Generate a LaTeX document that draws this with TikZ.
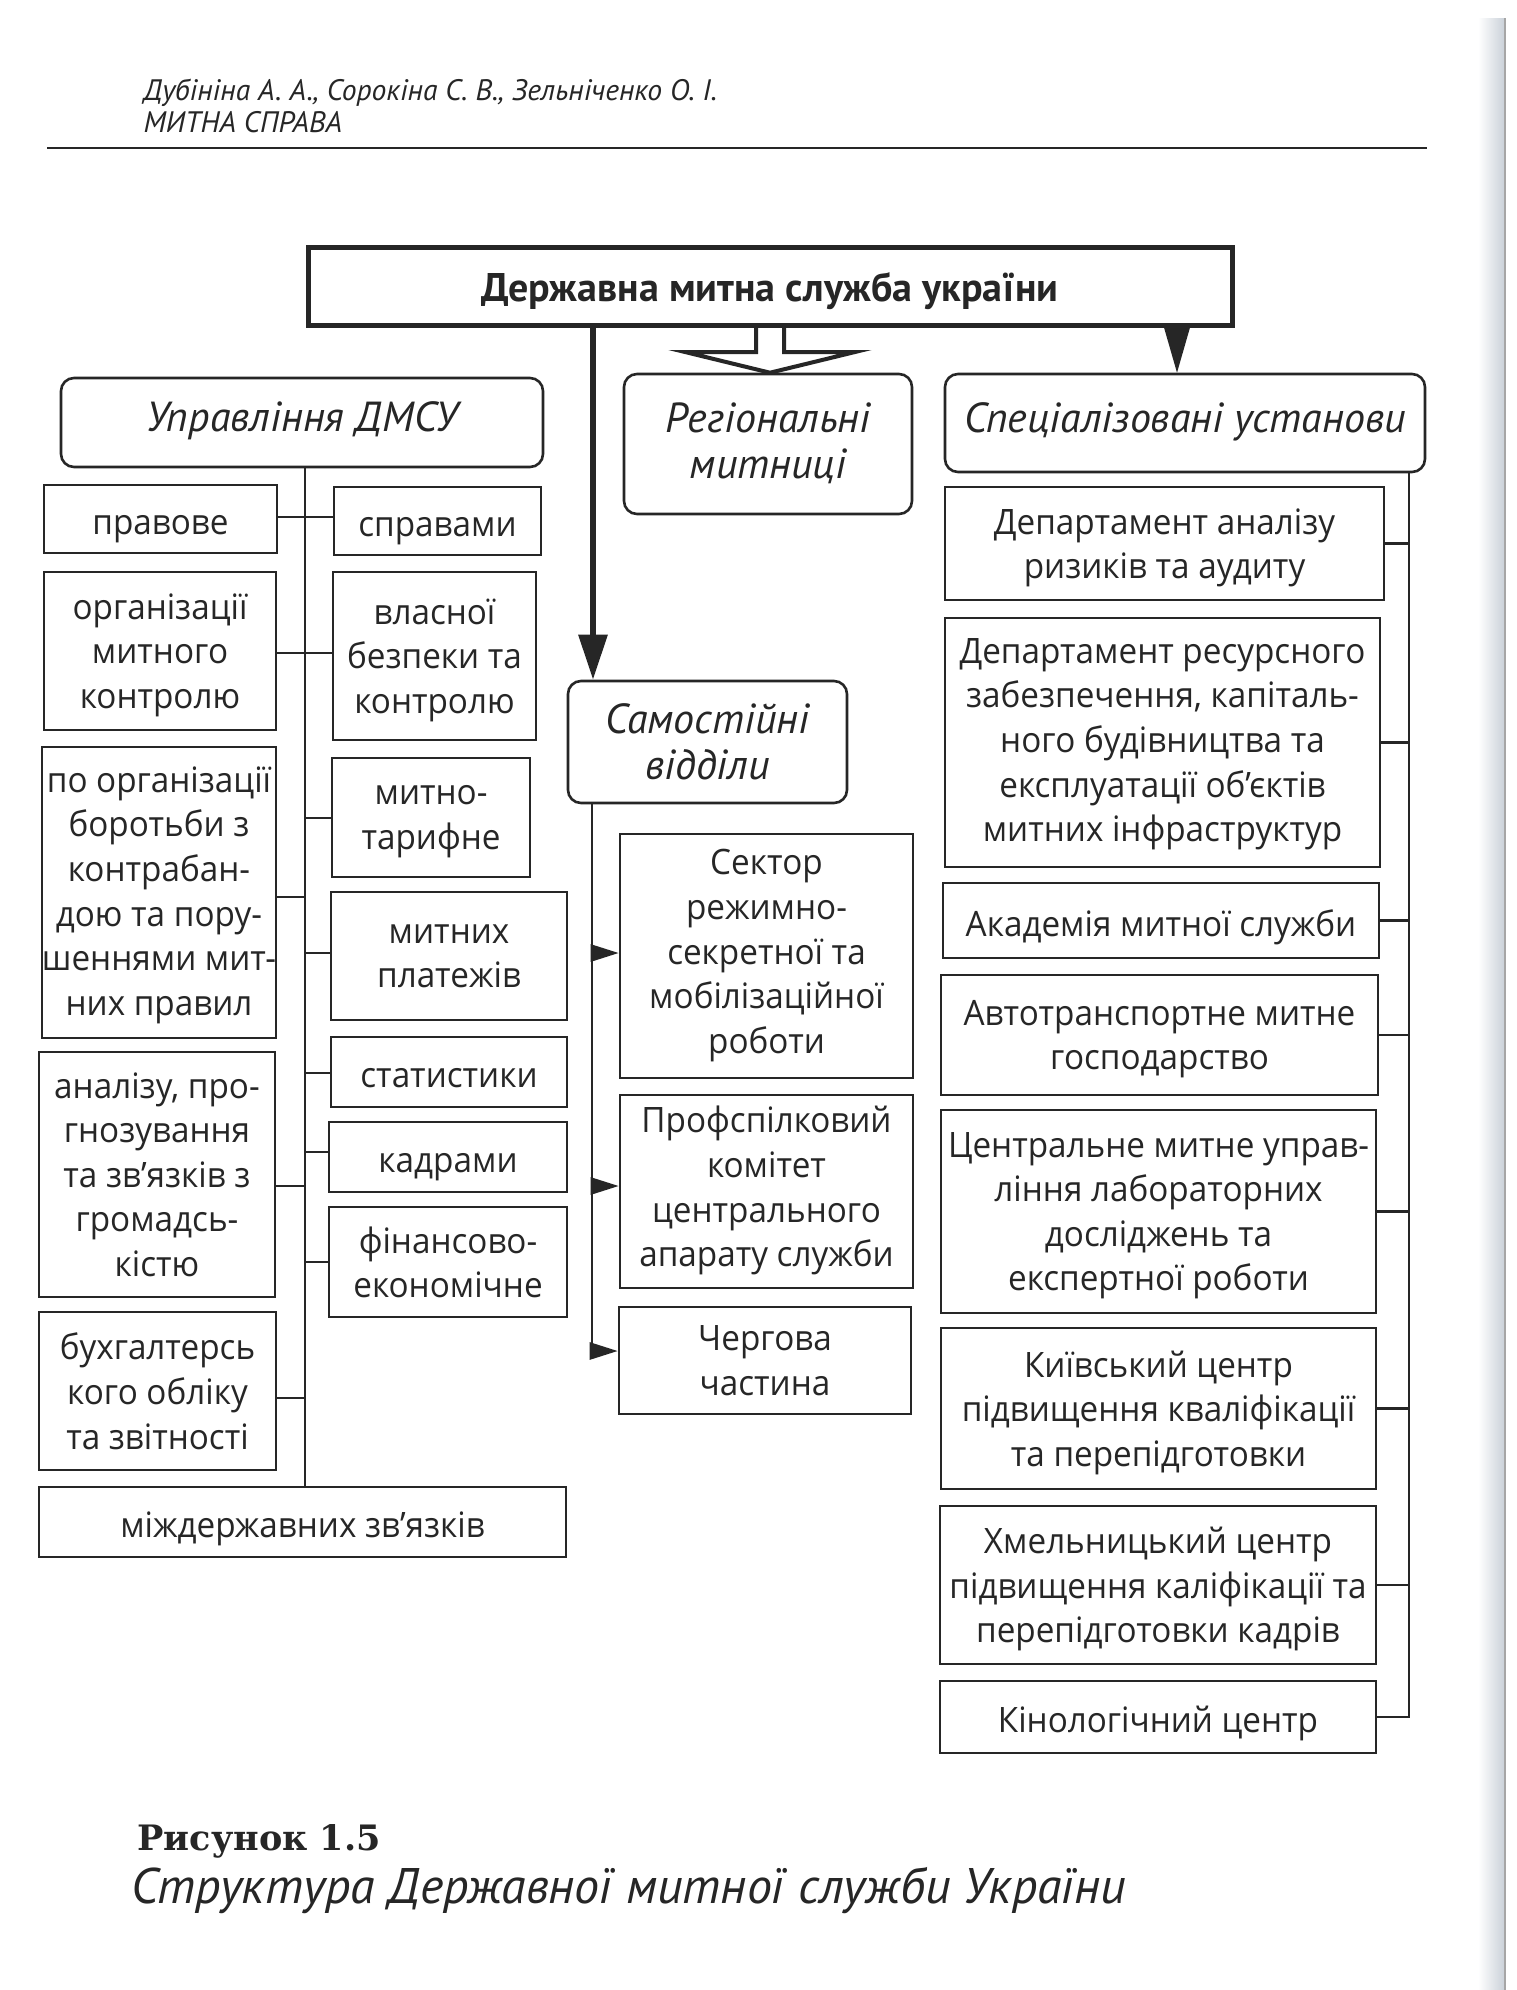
\documentclass[tikz,border=0pt]{standalone}
\usepackage{fontspec}
\setmainfont{Open Sans}[FakeStretch=0.95]
\newfontfamily\hdfont{PT Sans}
\newfontfamily\capserif{DejaVu Serif}
\usetikzlibrary{arrows.meta}
\definecolor{ink}{HTML}{262626}
\definecolor{strip}{HTML}{C9D0D8}
\begin{document}
\begin{tikzpicture}[x=1pt,y=-1pt,
  basebox/.style={draw=ink, line width=2.6pt, inner sep=0pt, align=center, text=ink},
  box/.style={basebox, font=\fontsize{35}{44.6}\selectfont,
              execute at begin node={\rule{0pt}{45pt}}, execute at end node=\strut},
  multi/.style={text depth=#1},
  multi/.default=0pt,
  hbox/.style={basebox, rounded corners=13pt, font=\hdfont\itshape\fontsize{42}{46}\selectfont,
              execute at begin node=\strut, execute at end node=\strut},
  link/.style={draw=ink, line width=2.6pt},
  smallarrow/.style={link, -{Triangle[length=28pt,width=17pt]}}
]
\useasboundingbox (0,0) rectangle (1516,1990);
\fill[white] (0,0) rectangle (1516,1990);
% scan edge strip
\shade[left color=white, right color=strip] (1478,18) rectangle (1505,1990);
\draw[line width=1.5pt, gray!70] (1505,18) -- (1505,1990);

% page header
\node[anchor=base west, text=ink, font=\hdfont\itshape\fontsize{29.6}{34}\selectfont] (auth) at (140,100) {Дубініна А. А., Сорокіна С. В., Зельніченко О. І.};
\node[anchor=base west, text=ink, font=\hdfont\itshape\fontsize{29.6}{34}\selectfont] (book) at (140,132) {МИТНА СПРАВА};
\draw[ink, line width=2.4pt] (47,148) -- (1427,148);

% top box
\node[box, line width=5pt, minimum width=924pt, minimum height=78pt,
      font=\hdfont\bfseries\fontsize{40}{44}\selectfont] (top) at (770,286) {Державна митна служба україни};

% header boxes
\node[hbox, minimum width=482pt, minimum height=89pt] (upr) at (302,422.5) {Управління ДМСУ};
\node[hbox, multi=7pt, minimum width=288pt, minimum height=140pt] (reg) at (768,444) {Регіональні\\митниці};
\node[hbox, minimum width=480pt, minimum height=98pt] (spec) at (1185,423) {Спеціалізовані установи};
\node[hbox, multi, minimum width=279pt, minimum height=122pt] (sam) at (707.5,742) {Самостійні\\відділи};

% connectors from top
\draw[draw=ink, line width=6pt, -{Triangle[length=45pt,width=28pt]}] (top.south -| 593,0) -- (sam.north -| 593,0);
\draw[draw=ink, line width=4pt, line join=miter] (top.south -| 756,0) -- (756,352) -- (685,352) -- (reg.north -| 770,0) -- (855,352) -- (784,352) -- (top.south -| 784,0);
\fill[ink] (top.south -| 1164,0) -- (top.south -| 1190,0) -- (spec.north -| 1177,0) -- cycle;

% left group, left column
\node[box, minimum width=233pt, minimum height=68pt] (pravove) at (160.5,519) {правове};
\node[box, multi, minimum width=232pt, minimum height=158pt] (orgmk) at (160,651) {організації\\митного\\контролю};
\node[box, multi=3pt, minimum width=234pt, minimum height=291pt] (borot) at (159,892.5) {по організації\\боротьби з\\контрабан-\\дою та пору-\\шеннями мит-\\них правил};
\node[box, multi, minimum width=236pt, minimum height=245pt] (analiz) at (157,1174.5) {аналізу, про-\\гнозування\\та зв’язків з\\громадсь-\\кістю};
\node[box, multi, minimum width=237pt, minimum height=158pt] (buh) at (157.5,1391) {бухгалтерсь\\кого обліку\\та звітності};
\node[box, minimum width=527pt, minimum height=70pt] (mizh) at (302.5,1522) {міждержавних зв’язків};

% left group, right column
\node[box, minimum width=207pt, minimum height=68pt] (spravamy) at (437.5,521) {справами};
\node[box, multi, minimum width=203pt, minimum height=168pt] (vlasnoi) at (434.5,656) {власної\\безпеки та\\контролю};
\node[box, multi, minimum width=198pt, minimum height=119pt] (tarif) at (431,817.5) {митно-\\тарифне};
\node[box, multi, minimum width=236pt, minimum height=128pt] (platez) at (449,956) {митних\\платежів};
\node[box, minimum width=236pt, minimum height=70pt] (statyst) at (449,1072) {статистики};
\node[box, minimum width=238pt, minimum height=70pt] (kadry) at (448,1157) {кадрами};
\node[box, multi, minimum width=238pt, minimum height=110pt] (finans) at (448,1262) {фінансово-\\економічне};

% left trunk and branches
\coordinate (lt) at (305,0);
\draw[link] (upr.south -| lt) -- (mizh.north -| lt);
\draw[link] (pravove.east |- 0,517) -- (spravamy.west |- 0,517);
\draw[link] (orgmk.east |- 0,653) -- (vlasnoi.west |- 0,653);
\draw[link] (borot.east |- 0,897) -- (lt |- 0,897);
\draw[link] (analiz.east |- 0,1186) -- (lt |- 0,1186);
\draw[link] (buh.east |- 0,1398) -- (lt |- 0,1398);
\draw[link] (lt |- 0,818) -- (tarif.west |- 0,818);
\draw[link] (lt |- 0,953) -- (platez.west |- 0,953);
\draw[link] (lt |- 0,1073) -- (statyst.west |- 0,1073);
\draw[link] (lt |- 0,1152) -- (kadry.west |- 0,1152);
\draw[link] (lt |- 0,1262) -- (finans.west |- 0,1262);

% middle group
\node[box, multi=9pt, minimum width=293pt, minimum height=244pt] (sektor) at (766.5,956) {Сектор\\режимно-\\секретної та\\мобілізаційної\\роботи};
\node[box, multi=10pt, minimum width=293pt, minimum height=193pt] (prof) at (766.5,1191.5) {Профспілковий\\комітет\\центрального\\апарату служби};
\node[box, multi, minimum width=292pt, minimum height=107pt] (cherg) at (765,1360.5) {Чергова\\частина};
\coordinate (mt) at (592,0);
\draw[smallarrow] (sam.south -| mt) |- (cherg.west |- 0,1351);
\draw[smallarrow] (mt |- 0,953) -- (sektor.west |- 0,953);
\draw[smallarrow] (mt |- 0,1186) -- (prof.west |- 0,1186);

% right group
\node[box, multi, minimum width=439pt, minimum height=113pt] (d1) at (1164.5,543.5) {Департамент аналізу\\ризиків та аудиту};
\node[box, multi=5pt, minimum width=435pt, minimum height=249pt] (d2) at (1162.5,742.5) {Департамент ресурсного\\забезпечення, капіталь-\\ного будівництва та\\експлуатації об’єктів\\митних інфраструктур};
\node[box, minimum width=436pt, minimum height=75pt] (akad) at (1161,920.5) {Академія митної служби};
\node[box, multi, minimum width=437pt, minimum height=120pt] (avto) at (1159.5,1035) {Автотранспортне митне\\господарство};
\node[box, multi, minimum width=435pt, minimum height=203pt] (centr) at (1158.5,1211.5) {Центральне митне управ-\\ління лабораторних\\досліджень та\\експертної роботи};
\node[box, multi, minimum width=435pt, minimum height=161pt] (kyiv) at (1158.5,1408.5) {Київський центр\\підвищення кваліфікації\\та перепідготовки};
\node[box, multi, minimum width=436pt, minimum height=158pt] (khm) at (1158,1585) {Хмельницький центр\\підвищення каліфікації та\\перепідготовки кадрів};
\node[box, minimum width=436pt, minimum height=72pt] (kin) at (1158,1717) {Кінологічний центр};
\coordinate (rt) at (1409,0);
\draw[link] (spec.south -| rt) |- (kin.east);
\foreach \b in {d1,d2,akad,avto,centr,kyiv,khm}
  \draw[link] (\b.east) -- (\b.east -| rt);

% caption
\node[anchor=base west, text=ink, font=\capserif\bfseries\fontsize{35}{42}\selectfont] (caph) at (134,1850) {Рисунок 1.5};
\node[anchor=base west, text=ink, font=\hdfont\itshape\fontsize{50}{56}\selectfont] (capt) at (128,1903) {Структура Державної митної служби України};
\end{tikzpicture}
\end{document}
